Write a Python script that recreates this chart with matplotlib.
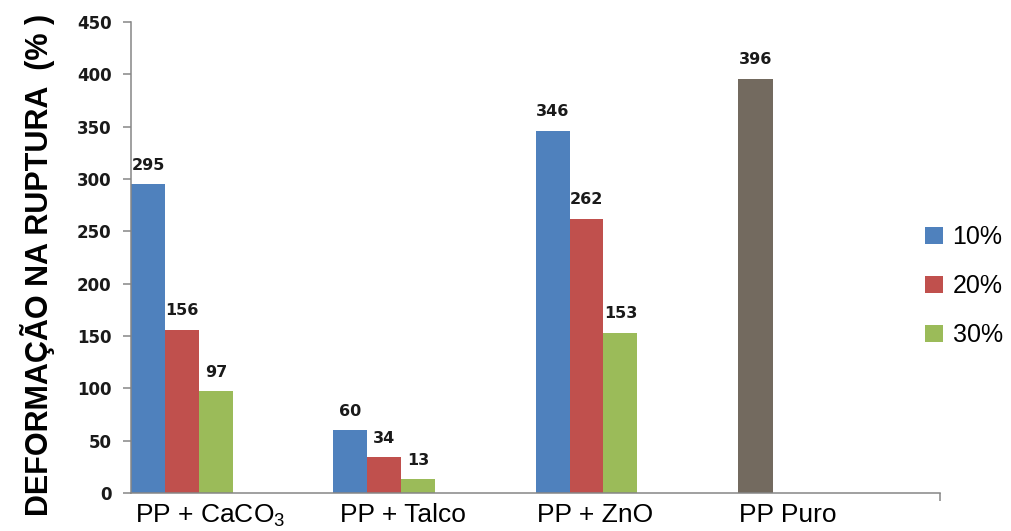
import numpy as np
import matplotlib
matplotlib.use('Agg')
import matplotlib.pyplot as plt

plt.rcParams['font.family'] = ['Liberation Sans', 'DejaVu Sans']
plt.rcParams['mathtext.default'] = 'regular'

categories = ['PP + CaCO$_3$', 'PP + Talco', 'PP + ZnO', 'PP Puro']
series_names = ['10%', '20%', '30%']
s10 = [295, 60, 346]
s20 = [156, 34, 262]
s30 = [97, 13, 153]
puro = [396]

colors = ['#4F81BD', '#C0504D', '#9BBB59']
puro_color = '#736A5F'
spine_color = '#868686'

fig = plt.figure(figsize=(10.11, 5.31), dpi=100)
ax = fig.add_axes([0.1296, 0.0716, 0.8002, 0.887])

w = 0.168
groups = np.arange(3)
handles = []
for j, vals in enumerate([s10, s20, s30]):
    b = ax.bar(groups + j * w, vals, width=w, align='edge', color=colors[j],
               label=series_names[j])
    handles.append(b)
    for x, v in zip(groups + j * w, vals):
        ax.annotate(str(v), (x + w / 2, v), xytext=(0, 10.5), textcoords='offset points',
                    ha='center', va='baseline', fontsize=11.5, fontweight='bold',
                    family='DejaVu Sans', color='#1a1a1a')

b = ax.bar([3], puro, width=w * 1.05, align='edge', color=puro_color)
ax.annotate(str(puro[0]), (3 + w * 1.05 / 2, puro[0]), xytext=(0, 10.5),
            textcoords='offset points', ha='center', va='baseline', fontsize=11.5,
            fontweight='bold', family='DejaVu Sans', color='#1a1a1a')

ax.set_xlim(0, 4)
ax.set_ylim(0, 450)
ax.set_yticks(np.arange(0, 451, 50))
for lab in ax.get_yticklabels():
    lab.set_fontfamily('DejaVu Sans')
    lab.set_fontweight('bold')
    lab.set_fontsize(12)
    lab.set_color('#1a1a1a')

ax.set_xticks(np.arange(4) * 0.953 + 0.39)
ax.set_xticklabels(categories, fontsize=19)
ax.set_xticks([4], minor=True)
ax.tick_params(axis='x', which='major', length=0, pad=7)
ax.tick_params(axis='x', which='minor', length=6, width=1.1, color=spine_color)
ax.tick_params(axis='y', length=6, width=1.1, color=spine_color, pad=8)

for s in ['top', 'right']:
    ax.spines[s].set_visible(False)
for s in ['left', 'bottom']:
    ax.spines[s].set_color(spine_color)
    ax.spines[s].set_linewidth(1.1)

fig.text(0.037, 0.501, 'DEFORMAÇÃO NA RUPTURA  (% )', rotation=90, ha='center',
         va='center', fontsize=22, fontweight='bold')

fig.legend(handles=handles, loc='center left', bbox_to_anchor=(0.915, 0.461),
           frameon=False, fontsize=18, handlelength=0.7, handleheight=0.7,
           handletextpad=0.4, labelspacing=1.0, borderpad=0, borderaxespad=0)

fig.savefig('out.png', dpi=100)
